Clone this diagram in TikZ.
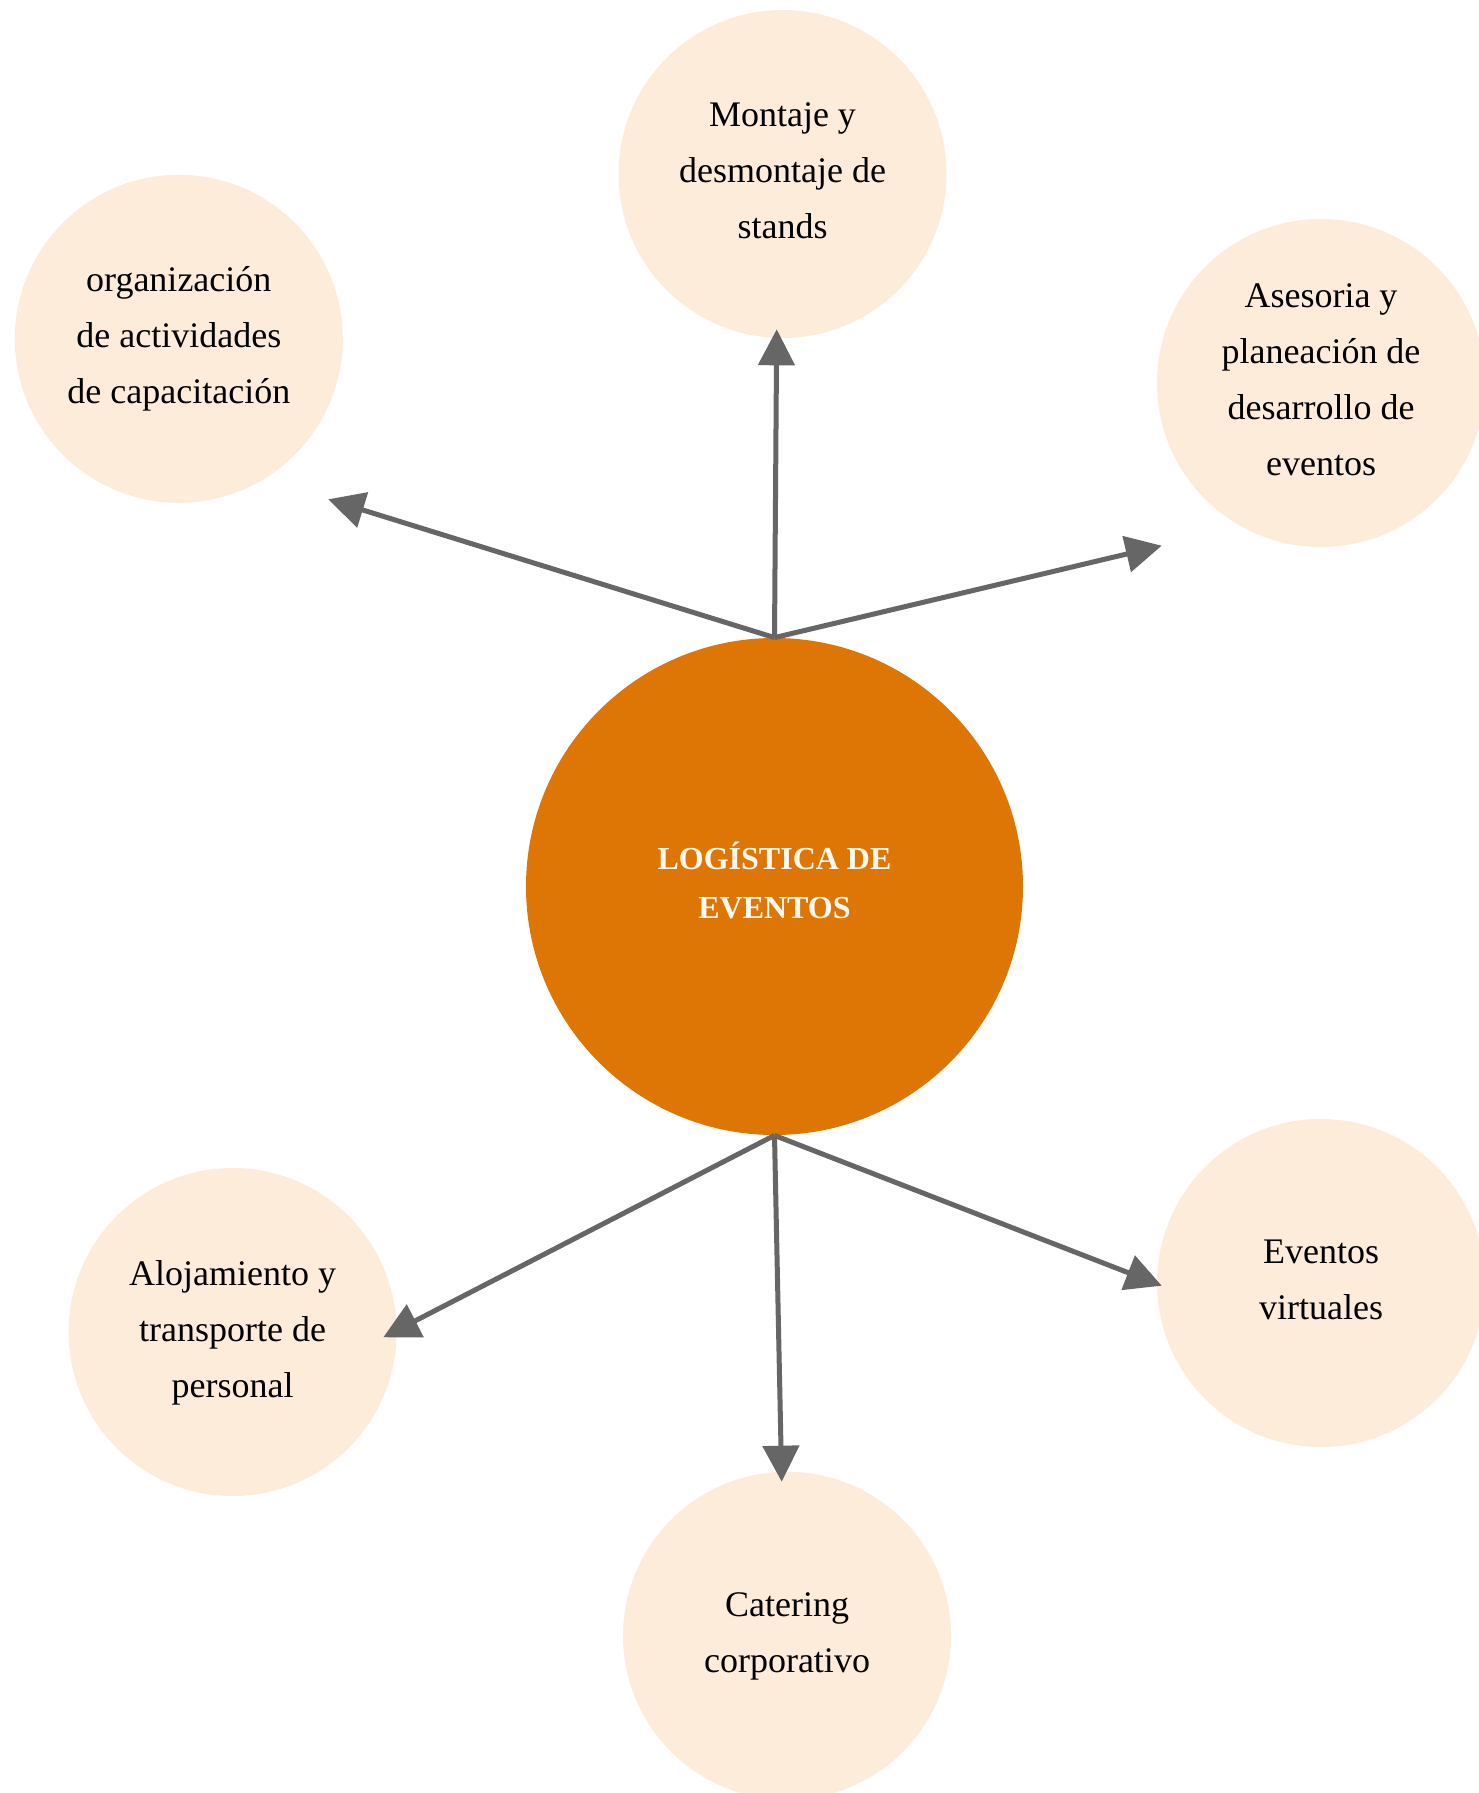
\documentclass[tikz,border=0pt]{standalone}
\usepackage{fontspec}
\setmainfont{Liberation Serif}
\usetikzlibrary{arrows.meta}
\definecolor{naranja}{RGB}{222,118,6}
\definecolor{durazno}{RGB}{254,236,219}
\definecolor{gris}{RGB}{102,102,102}
\definecolor{crema}{RGB}{255,248,238}

\begin{document}
\begin{tikzpicture}[x=0.5pt,y=-0.5pt,
  sat/.style={circle,fill=durazno,minimum size=164pt,inner sep=0pt,align=center,
    text depth=3.5pt,font=\fontsize{18}{28}\selectfont},
  nucleo/.style={circle,fill=naranja,minimum size=248.5pt,inner sep=0pt,align=center,
    text depth=6.6pt,text=crema,font=\fontsize{16}{24.5}\selectfont\bfseries},
  conn/.style={draw=gris,line width=2.5pt,-{Triangle[length=18pt,width=18pt]}}]
\fill[white] (0,0) rectangle (1478,1793);
\useasboundingbox (0,0) rectangle (1478,1793);

\node[nucleo] (centro) at (774.5,886.5) {LOGÍSTICA DE\\EVENTOS};

\node[sat] (montaje) at (782.5,174) {Montaje y\\desmontaje de\\stands};
\node[sat] (organiza) at (178.8,338.8) {organización\\de actividades\\de capacitación};
\node[sat] (asesoria) at (1321,383) {Asesoria y\\planeación de\\desarrollo de\\eventos};
\node[sat] (virtual) at (1321,1283) {Eventos\\virtuales};
\node[sat] (catering) at (787,1635.7) {Catering\\corporativo};
\node[sat] (alojamiento) at (232.6,1332) {Alojamiento y\\transporte de\\personal};

\coordinate (pMontaje) at (776.7,329.3);
\coordinate (pOrganiza) at (328.3,499.3);
\coordinate (pAsesoria) at (1161.7,545.7);
\coordinate (pVirtual) at (1161.7,1285.7);
\coordinate (pCatering) at (781.7,1481.7);
\coordinate (pAlojamiento) at (383.3,1337.3);

\draw[conn] (centro.north) -- (pMontaje);
\draw[conn] (centro.north) -- (pOrganiza);
\draw[conn] (centro.north) -- (pAsesoria);
\draw[conn] (centro.south) -- (pVirtual);
\draw[conn] (centro.south) -- (pCatering);
\draw[conn] (centro.south) -- (pAlojamiento);
\end{tikzpicture}
\end{document}
